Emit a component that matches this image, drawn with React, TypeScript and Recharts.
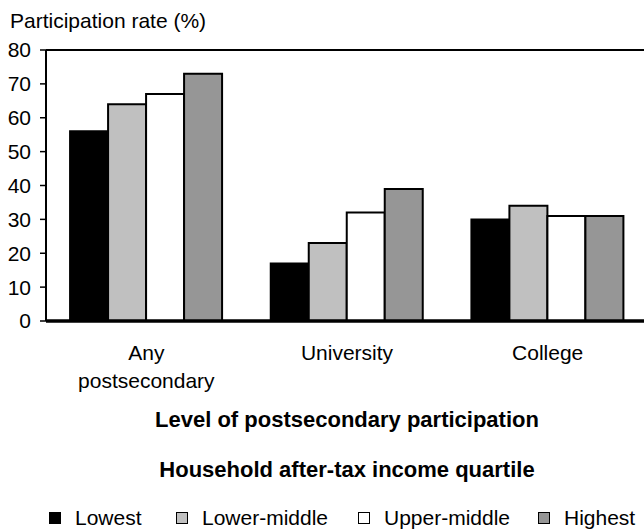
import { BarChart, Bar, XAxis, YAxis, Legend, Label, ReferenceLine } from 'recharts'

const categories = ['Any\npostsecondary', 'University', 'College']
const lowest = [56, 17, 30]
const lowerMiddle = [64, 23, 34]
const upperMiddle = [67, 32, 31]
const highest = [73, 39, 31]
const yTicks = [0, 10, 20, 30, 40, 50, 60, 70, 80]

const seriesNames = ['Lowest', 'Lower-middle', 'Upper-middle', 'Highest']
const seriesColors = ['#000000', '#c0c0c0', '#ffffff', '#969696']
const seriesValues = [lowest, lowerMiddle, upperMiddle, highest]

const data = categories.map((name, i) => {
  const row: any = { name }
  seriesNames.forEach((s, j) => {
    row[s] = seriesValues[j][i]
  })
  return row
})

const font = '"Liberation Sans", Arial, sans-serif'
// left edge of each legend swatch
const legendLefts = [49, 176, 358, 538]

const CategoryTick = ({ x, y, payload }: any) => {
  const lines = String(payload.value).split('\n')
  return (
    <text x={x} y={y} textAnchor="middle" fontSize={21} fontFamily={font} fill="#000">
      {lines.map((line, i) => (
        <tspan key={i} x={x} dy={i === 0 ? 39 : 28}>{line}</tspan>
      ))}
    </text>
  )
}

const LegendBox = () => (
  <div style={{ position: 'relative', width: 644, height: 98, fontFamily: font, color: '#000' }}>
    <div style={{
      position: 'absolute', top: 28, left: 0, width: 694, textAlign: 'center',
      fontSize: 22, lineHeight: '22px', fontWeight: 700
    }}>
      Household after-tax income quartile
    </div>
    {seriesNames.map((s, i) => (
      <div key={s} style={{ position: 'absolute', top: 76, left: legendLefts[i], display: 'flex', alignItems: 'center' }}>
        <span style={{
          display: 'inline-block', width: 10, height: 10, marginTop: 1,
          background: seriesColors[i], border: '1.5px solid #000'
        }} />
        <span style={{ marginLeft: 14, fontSize: 21, lineHeight: '21px', whiteSpace: 'nowrap' }}>{s}</span>
      </div>
    ))}
  </div>
)

export default function App() {
  return (
    <div style={{ position: 'absolute', left: 0, top: 0, width: 644, height: 529, overflow: 'hidden', background: '#fff' }}>
      <BarChart
        width={648}
        height={529}
        data={data}
        margin={{ top: 50, right: 0, left: 0, bottom: 0 }}
        barCategoryGap="12%"
        barGap={0}
      >
        <YAxis
          width={46}
          domain={[0, 80]}
          ticks={yTicks}
          interval={0}
          tickSize={6}
          tickMargin={9}
          axisLine={{ stroke: '#000', strokeWidth: 2 }}
          tickLine={{ stroke: '#000', strokeWidth: 1.5 }}
          tick={{ fill: '#000', fontSize: 21, fontFamily: font }}
        >
          <Label
            content={() => (
              <text x={10} y={28} fontSize={21} fontFamily={font} fill="#000">Participation rate (%)</text>
            )}
          />
        </YAxis>
        <XAxis
          dataKey="name"
          height={110}
          interval={0}
          tickSize={0}
          tickMargin={0}
          tickLine={false}
          axisLine={{ stroke: '#000', strokeWidth: 3.5 }}
          tick={<CategoryTick />}
        >
          <Label
            content={({ viewBox }: any) => (
              <text
                x={viewBox.x + viewBox.width / 2}
                y={viewBox.y + 106}
                textAnchor="middle"
                fontSize={22}
                fontWeight={700}
                fontFamily={font}
                fill="#000"
              >
                Level of postsecondary participation
              </text>
            )}
          />
        </XAxis>
        <ReferenceLine y={80} stroke="#000" strokeWidth={2} />
        {seriesNames.map((s, i) => (
          <Bar
            key={s}
            dataKey={s}
            fill={seriesColors[i]}
            stroke="#000"
            strokeWidth={2}
            isAnimationActive={false}
          />
        ))}
        <Legend
          verticalAlign="bottom"
          align="left"
          content={<LegendBox />}
          wrapperStyle={{ left: 0, bottom: 0, width: 644, height: 98 }}
        />
      </BarChart>
    </div>
  )
}
